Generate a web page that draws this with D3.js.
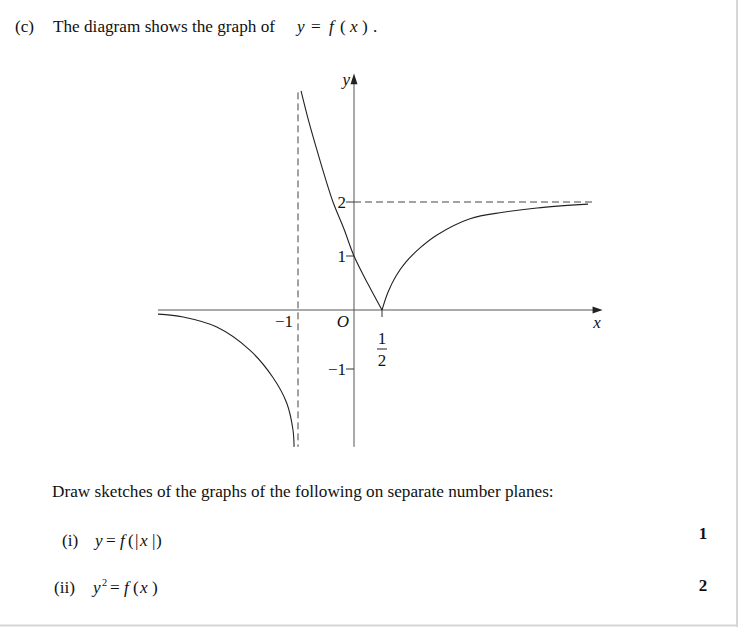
<!DOCTYPE html>
<html><head><meta charset="utf-8">
<script src="https://cdn.jsdelivr.net/npm/d3@7"></script>
<style>body{margin:0;background:#fff}svg{display:block}text{font-family:"Liberation Serif","Times New Roman",serif;fill:#111}</style>
</head><body><div id="c"></div>
<script>
// Data
const leftX  = [-3.5, -3.05, -2.45, -1.86, -1.45, -1.2, -1.09, -1.07];
const leftY  = [-0.07, -0.12, -0.29, -0.68, -1.14, -1.58, -2.03, -2.32];
const midX   = [-0.946, -0.804, -0.661, -0.518, -0.375, -0.179, 0, 0.25, 0.5];
const midY   = [4.06, 3.48, 2.96, 2.46, 2.0, 1.5, 1.0, 0.48, 0];
const rightX = [0.5, 0.607, 0.75, 0.929, 1.179, 1.482, 2.071, 2.661, 3.268, 4.179];
const rightY = [0, 0.33, 0.63, 0.89, 1.15, 1.39, 1.69, 1.81, 1.89, 1.96];
const yTicks = [2, 1, -1];
const yTickLabels = ["2", "1", "\u22121"];
const asymX = -1, asymY = 2;

const W = 738, H = 627;
const FONT = "Liberation Serif";
const svg = d3.select("#c").append("svg").attr("width", W).attr("height", H);

// border
svg.append("line").attr("x1", W-1).attr("x2", W-1).attr("y1", 0).attr("y2", H).attr("stroke", "#d6d6d6").attr("stroke-width", 2);
svg.append("line").attr("x1", 0).attr("x2", W).attr("y1", H-1.5).attr("y2", H-1.5).attr("stroke", "#d6d6d6").attr("stroke-width", 2);

const x = d3.scaleLinear().domain([0, 1]).range([354, 410]);
const y = d3.scaleLinear().domain([-1, 0, 1, 2]).range([369, 310, 256, 202]);

const axisCol = "#555";
// x-axis
svg.append("line").attr("x1", x(-3.5)).attr("x2", x(4.3)).attr("y1", y(0)).attr("y2", y(0)).attr("stroke", axisCol);
svg.append("path").attr("d", `M${x(4.44)},${y(0)} L${x(4.26)},${y(0)-3.5} L${x(4.26)},${y(0)+3.5} Z`).attr("fill", "#222");
// y-axis
svg.append("line").attr("x1", x(0)).attr("x2", x(0)).attr("y1", y(-2.32)).attr("y2", y(4.2)).attr("stroke", axisCol);
svg.append("path").attr("d", `M${x(0)},${y(4.38)} L${x(0)-3.5},${y(4.18)} L${x(0)+3.5},${y(4.18)} Z`).attr("fill", "#222");

// asymptotes
svg.append("line").attr("x1", x(asymX)).attr("x2", x(asymX)).attr("y1", y(4.03)).attr("y2", y(-2.32))
  .attr("stroke", "#444").attr("stroke-dasharray", "7,4");
svg.append("line").attr("x1", x(0)).attr("x2", x(4.27)).attr("y1", y(asymY)).attr("y2", y(asymY))
  .attr("stroke", "#444").attr("stroke-dasharray", "7,4");

function label(xp, yp, txt, opts = {}) {
  return svg.append("text").attr("x", xp).attr("y", yp).attr("font-family", FONT)
    .attr("text-anchor", opts.anchor || "start").attr("font-size", opts.size || 17)
    .attr("font-style", opts.italic ? "italic" : null).text(txt);
}

// ticks on y-axis
yTicks.forEach((t, i) => {
  svg.append("line").attr("x1", x(0) - 8).attr("x2", x(0)).attr("y1", y(t)).attr("y2", y(t)).attr("stroke", "#333");
  label(x(0) - 8, y(t) + 6, yTickLabels[i], { anchor: "end" });
});
// tick at x = 1/2
svg.append("line").attr("x1", x(0.5)).attr("x2", x(0.5)).attr("y1", y(0)).attr("y2", y(0) + 7).attr("stroke", "#333");
label(x(0.5), 344, "1", { anchor: "middle" });
svg.append("line").attr("x1", x(0.5) - 5).attr("x2", x(0.5) + 5).attr("y1", 349).attr("y2", 349).attr("stroke", "#222");
label(x(0.5), 366, "2", { anchor: "middle" });
// -1 on x-axis
label(x(asymX) - 5, 327, "\u22121", { anchor: "end" });
// O
label(x(0) - 5, 327, "O", { anchor: "end", italic: true });
// axis letters
label(x(0) - 4, 85, "y", { anchor: "end", italic: true });
label(597, 328, "x", { anchor: "middle", italic: true });

// curves
const line = d3.line().x(d => x(d[0])).y(d => y(d[1])).curve(d3.curveCatmullRom.alpha(0.5));
[[leftX, leftY], [midX, midY], [rightX, rightY]].forEach(([xs, ys]) => {
  svg.append("path").attr("d", line(xs.map((v, i) => [v, ys[i]])))
    .attr("fill", "none").attr("stroke", "#222").attr("stroke-width", 1.1);
});

// texts; parts: [text, x, italic, superscript]
function mline(yp, parts, size) {
  parts.forEach(p => {
    const t = svg.append("text").attr("x", p[1]).attr("y", p[3] ? yp - 7 : yp)
      .attr("font-family", FONT).attr("font-size", p[3] ? size * 0.6 : size).text(p[0]);
    if (p[2]) t.attr("font-style", "italic");
  });
}
const S = 17.2;
mline(32, [["(c)", 15], ["The diagram shows the graph of", 53], ["y", 297, 1], ["=", 311], ["f", 329, 1], ["(", 340], ["x", 350, 1], [")", 362], [".", 373]], S);
mline(497, [["Draw sketches of the graphs of the following on separate number planes:", 52]], S);
mline(546, [["(i)", 62], ["y", 95, 1], ["=", 106], ["f", 120, 1], ["(", 128], ["|", 135], ["x", 140, 1], ["|", 152], [")", 156]], S);
mline(593, [["(ii)", 54], ["y", 93, 1], ["2", 102, 0, 1], ["=", 110], ["f", 124, 1], ["(", 133], ["x", 140, 1], [")", 152]], S);
svg.append("text").attr("x", 703).attr("y", 539).attr("font-family", FONT).attr("text-anchor", "middle").attr("font-size", 17).attr("font-weight", "bold").text("1");
svg.append("text").attr("x", 703).attr("y", 591).attr("font-family", FONT).attr("text-anchor", "middle").attr("font-size", 17).attr("font-weight", "bold").text("2");
</script></body></html>
